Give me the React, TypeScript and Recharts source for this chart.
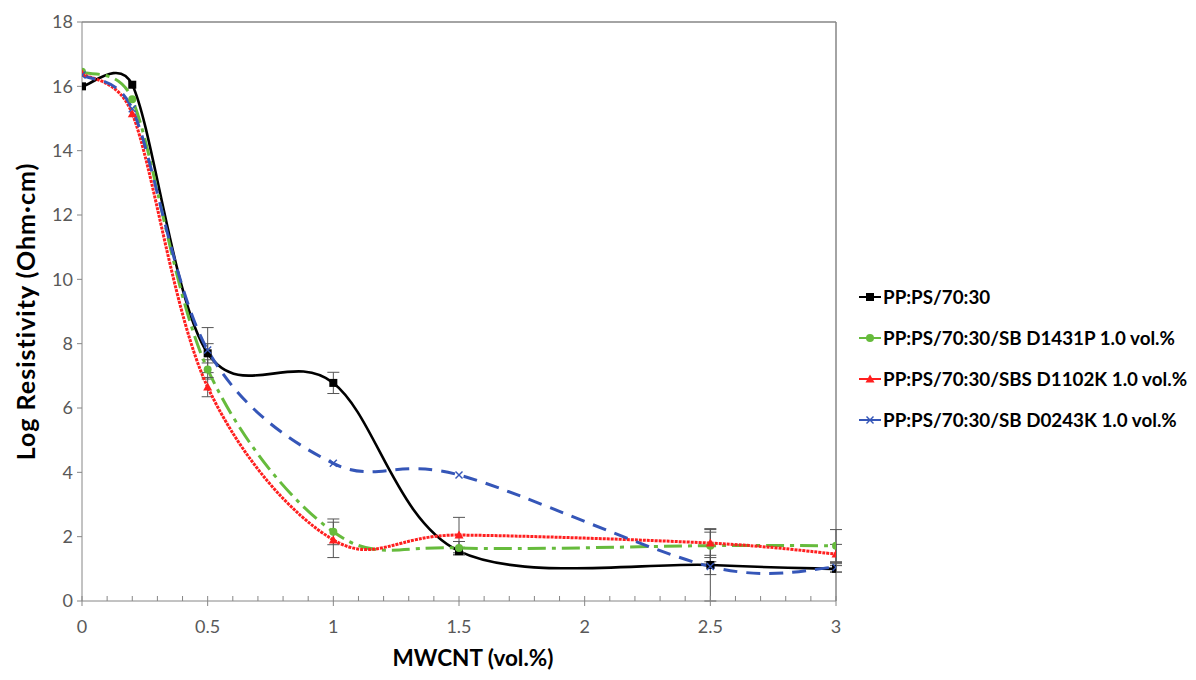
import React from 'react';
import { LineChart, Line, XAxis, YAxis, ErrorBar, ReferenceLine } from 'recharts';

// ---- data ----
const xValues = [0, 0.2, 0.5, 1, 1.5, 2.5, 3];
const seriesNames = [
  'PP:PS/70:30',
  'PP:PS/70:30/SB D1431P 1.0 vol.%',
  'PP:PS/70:30/SBS D1102K 1.0 vol.%',
  'PP:PS/70:30/SB D0243K 1.0 vol.%',
];
const blackValues = [16.0, 16.05, 7.7, 6.78, 1.55, 1.12, 1.0];
const greenValues = [16.45, 15.6, 7.2, 2.15, 1.65, 1.72, 1.72];
const redValues = [16.4, 15.15, 6.65, 1.9, 2.05, 1.8, 1.46];
const blueValues = [16.35, 15.3, 7.8, 4.28, 3.92, 1.07, 1.05];

const blackErr = [0, 0, 0.3, 0.33, 0.12, 0.3, 0.1];
const greenErr = [0, 0, 0.3, 0.4, 0.2, 0.5, 0.5];
const redErr = [0, 0, 0.3, 0.55, 0.55, 0.45, 0.3];
const blueErr = [0, 0, 0.7, 0, 0, 1.07, 0.15];

const yTicks = [0, 2, 4, 6, 8, 10, 12, 14, 16, 18];
const xMajorTicks = [0, 0.5, 1, 1.5, 2, 2.5, 3];
const xMinorTicks = Array.from({ length: 31 }, (_, i) => i / 10);

const xTitle = 'MWCNT (vol.%)';
const yTitle = 'Log Resistivity (Ohm·cm)';

const data = xValues.map((x, i) => ({
  x,
  s0: blackValues[i],
  s1: greenValues[i],
  s2: redValues[i],
  s3: blueValues[i],
  e0: blackErr[i] || undefined,
  e1: greenErr[i] || undefined,
  e2: redErr[i] || undefined,
  e3: blueErr[i] || undefined,
}));

// ---- styles ----
const FONT = 'Lato, "Open Sans", sans-serif';
const AXIS = '#868686';
const TICK_TEXT = '#595959';
const colors = ['#000000', '#66bb3c', '#ff1f1f', '#3556b8'];

// Excel-like smoothed curve (Catmull-Rom based bezier, handles capped by segment length)
const HANDLE_CAP = 0.6;
const excelCurve: any = (context: any) => {
  let pts: [number, number][] = [];
  const cap = (hx: number, hy: number, seg: number): [number, number] => {
    const len = Math.hypot(hx, hy);
    const max = HANDLE_CAP * seg;
    if (len > max && len > 0) {
      const s = max / len;
      return [hx * s, hy * s];
    }
    return [hx, hy];
  };
  return {
    areaStart() {},
    areaEnd() {},
    lineStart() {
      pts = [];
    },
    lineEnd() {
      const n = pts.length;
      if (!n) return;
      context.moveTo(pts[0][0], pts[0][1]);
      for (let i = 0; i < n - 1; i++) {
        const p0 = pts[Math.max(i - 1, 0)];
        const p1 = pts[i];
        const p2 = pts[i + 1];
        const p3 = pts[Math.min(i + 2, n - 1)];
        const seg = Math.hypot(p2[0] - p1[0], p2[1] - p1[1]);
        const h1 = cap((p2[0] - p0[0]) / 6, (p2[1] - p0[1]) / 6, seg);
        const h2 = cap((p3[0] - p1[0]) / 6, (p3[1] - p1[1]) / 6, seg);
        context.bezierCurveTo(p1[0] + h1[0], p1[1] + h1[1], p2[0] - h2[0], p2[1] - h2[1], p2[0], p2[1]);
      }
    },
    point(x: number, y: number) {
      pts.push([x, y]);
    },
  };
};

const Marker = ({ kind, cx, cy }: { kind: number; cx: number; cy: number }) => {
  const c = colors[kind];
  if (kind === 0) return <rect x={cx - 4} y={cy - 4} width={8} height={8} fill={c} />;
  if (kind === 1) return <circle cx={cx} cy={cy} r={4} fill={c} />;
  if (kind === 2)
    return <polygon points={`${cx},${cy - 4.5} ${cx + 4.5},${cy + 3.5} ${cx - 4.5},${cy + 3.5}`} fill={c} />;
  return (
    <g stroke={c} strokeWidth={1.4}>
      <line x1={cx - 3.5} y1={cy - 3.5} x2={cx + 3.5} y2={cy + 3.5} />
      <line x1={cx - 3.5} y1={cy + 3.5} x2={cx + 3.5} y2={cy - 3.5} />
    </g>
  );
};

const makeDot = (kind: number) => (props: any) => {
  const { cx, cy, index } = props;
  if (cx == null || cy == null) return <g key={`d${kind}-${index}`} />;
  return (
    <g key={`d${kind}-${index}`}>
      <Marker kind={kind} cx={cx} cy={cy} />
    </g>
  );
};

const XTick = (props: any) => {
  const { x, y, payload } = props;
  const v = Math.round(payload.value * 10) / 10;
  const major = xMajorTicks.some((t) => Math.abs(t - v) < 1e-6);
  return (
    <g>
      {major ? (
        <line x1={x} x2={x} y1={y - 5} y2={y + 5} stroke={AXIS} strokeWidth={1} />
      ) : (
        <line x1={x} x2={x} y1={y - 5} y2={y} stroke={AXIS} strokeWidth={1} />
      )}
      {major && (
        <text x={x} y={y + 32} textAnchor="middle" fill={TICK_TEXT} fontSize={18} fontFamily={FONT}>
          {String(v)}
        </text>
      )}
    </g>
  );
};

const XTitle = (props: any) => {
  const vb = props.viewBox || { x: 0, y: 0, width: 0, height: 0 };
  return (
    <text
      x={vb.x + vb.width / 2 + 14}
      y={vb.y + vb.height - 14}
      textAnchor="middle"
      fontFamily={FONT}
      fontSize={22.5}
      fontWeight={700}
      fill="#000"
    >
      {xTitle}
    </text>
  );
};

const lineStyles = [
  { strokeWidth: 2.6, strokeDasharray: undefined },
  { strokeWidth: 3, strokeDasharray: '18 6 4 6' },
  { strokeWidth: 3, strokeDasharray: '3 1' },
  { strokeWidth: 3, strokeDasharray: '14 9' },
];

const LegendSample = ({ kind }: { kind: number }) => (
  <svg width={24} height={12} style={{ display: 'block' }}>
    <line x1={1} y1={6} x2={23} y2={6} stroke={colors[kind]} strokeWidth={2} />
    <Marker kind={kind} cx={12} cy={6} />
  </svg>
);

export default function App() {
  return (
    <div style={{ position: 'relative', width: 1188, height: 672, fontFamily: FONT }}>
      <LineChart
        width={1188}
        height={672}
        data={data}
        margin={{ top: 14, right: 360, bottom: 0, left: 0 }}
      >
        <XAxis
          type="number"
          dataKey="x"
          domain={[0, 3]}
          ticks={xMinorTicks}
          interval={0}
          tickLine={false}
          tickSize={0}
          tickMargin={0}
          tick={<XTick />}
          height={79}
          axisLine={{ stroke: AXIS, strokeWidth: 1 }}
          allowDataOverflow
          label={{ content: <XTitle /> }}
        />
        <YAxis
          type="number"
          domain={[0, 18]}
          ticks={yTicks}
          interval={0}
          width={74}
          tickSize={5}
          tickMargin={4}
          tickLine={{ stroke: AXIS }}
          axisLine={{ stroke: AXIS, strokeWidth: 1 }}
          tick={{ fill: TICK_TEXT, fontSize: 18, fontFamily: FONT }}
          allowDataOverflow
          label={{
            value: yTitle,
            angle: -90,
            position: 'insideLeft',
            offset: 18,
            style: {
              fontFamily: FONT,
              fontSize: 25,
              fontWeight: 700,
              fill: '#000',
              textAnchor: 'middle',
              letterSpacing: 1,
            },
          }}
        />
        <ReferenceLine y={18} stroke={AXIS} strokeWidth={1.5} />
        <ReferenceLine x={3} stroke={AXIS} strokeWidth={1.5} />
        {[0, 1, 2, 3].map((k) => (
          <Line
            key={k}
            dataKey={`s${k}`}
            name={seriesNames[k]}
            type={excelCurve}
            stroke={colors[k]}
            strokeWidth={lineStyles[k].strokeWidth}
            strokeDasharray={lineStyles[k].strokeDasharray}
            dot={makeDot(k)}
            activeDot={false}
            isAnimationActive={false}
          >
            <ErrorBar dataKey={`e${k}`} direction="y" width={6} stroke="#555" strokeWidth={1} />
          </Line>
        ))}
      </LineChart>
      <div style={{ position: 'absolute', left: 850, top: 268 }}>
        {seriesNames.map((n, k) => (
          <div key={n} style={{ display: 'flex', alignItems: 'center', height: 41 }}>
            <LegendSample kind={k} />
            <span
              style={{
                marginLeft: 1,
                fontSize: 18.8,
                fontWeight: 700,
                color: '#000',
                whiteSpace: 'nowrap',
                fontFamily: FONT,
              }}
            >
              {n}
            </span>
          </div>
        ))}
      </div>
    </div>
  );
}
